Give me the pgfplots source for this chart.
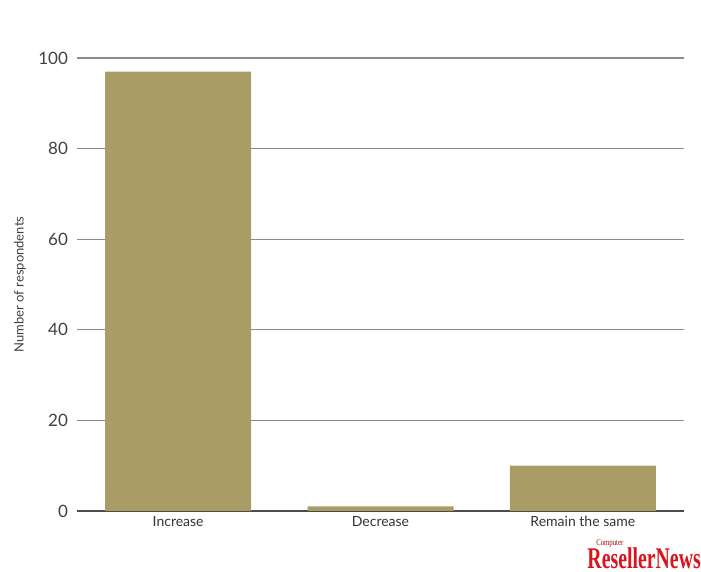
\documentclass[border=0pt]{standalone}
\usepackage{pgfplots}
\pgfplotsset{compat=1.18}
\usepackage{fontspec}
\setmainfont{Lato}
\newfontfamily\logofont{Liberation Serif}
\definecolor{barc}{HTML}{AA9C67}
\definecolor{gridc}{HTML}{8C8C8C}
\definecolor{logored}{HTML}{D8141C}
\begin{document}
\begin{tikzpicture}
\useasboundingbox (0,0) rectangle (350.5pt,286pt);
\begin{axis}[
  at={(38.5pt,30.5pt)}, anchor=south west,
  scale only axis, width=303.5pt, height=226.5pt,
  xmin=-0.5, xmax=2.5, ymin=0, ymax=100,
  ytick={0,20,...,100},
  xtick={0,1,2},
  xticklabels={Increase,Decrease,Remain the same},
  /pgf/number format/assume math mode=true,
  tick label style={font=\fontsize{8.5}{10}\selectfont, text=black!75},
  xticklabel style={font=\fontsize{7}{8}\selectfont, text=black!80, yshift=1pt},
  yticklabel style={xshift=-1pt},
  axis x line*=bottom, axis y line*=left,
  y axis line style={draw=none},
  x axis line style={draw=black!70, line width=0.6pt, -},
  major tick length=0pt,
  ymajorgrids, grid style={draw=gridc, line width=0.55pt},
  ylabel={Number of respondents},
  ylabel style={font=\fontsize{6.5}{8}\selectfont, text=black!75, at={(axis description cs:-0.094,0.5)}, anchor=center, rotate=0},
  clip=false,
]
\addplot[ybar, bar width=73pt, fill=barc, draw=none, bar shift=0pt] coordinates {(0,97) (1,1) (2,10)};
\end{axis}
\node[anchor=south east, inner sep=0pt, text=logored, font=\logofont\bfseries\fontsize{15}{15}\selectfont, xscale=0.66] at (350.5pt,1.5pt) {ResellerNews};
\node[anchor=south west, inner sep=0pt, text=logored!70!black, font=\logofont\fontsize{4.5}{5}\selectfont, xscale=0.75] at (298pt,12pt) {Computer};
\end{tikzpicture}
\end{document}
